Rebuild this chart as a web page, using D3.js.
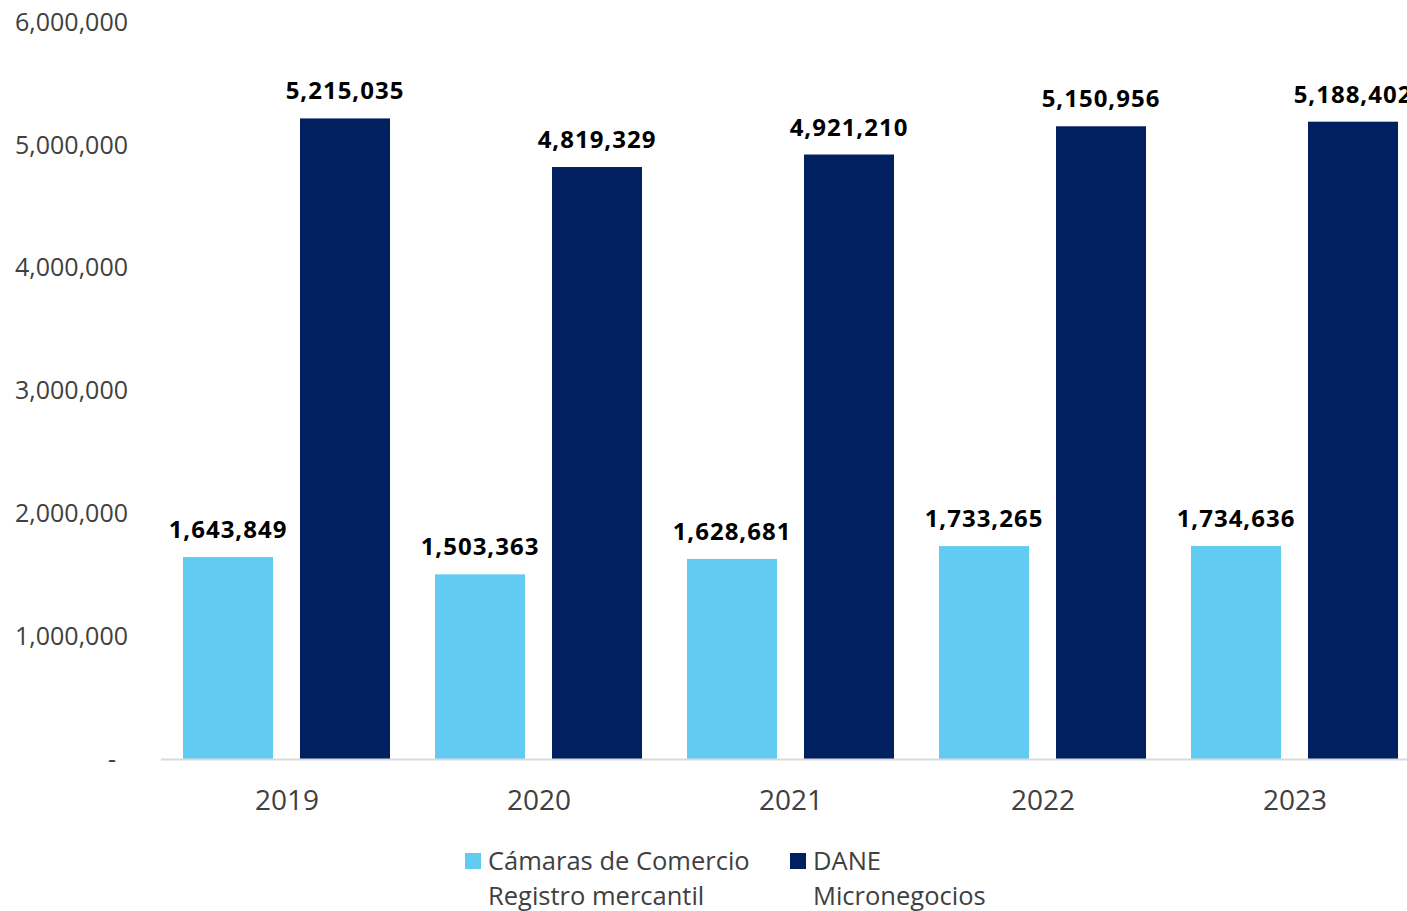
<!DOCTYPE html>
<html>
<head>
<meta charset="utf-8">
<script src="https://cdn.jsdelivr.net/npm/d3@7"></script>
<style>
  body { margin: 0; background: #fff; overflow: hidden; }
  text { font-family: "Open Sans", "Noto Sans", sans-serif; }
</style>
</head>
<body>
<div class="chart"></div>
<script>
// data
var years = ["2019", "2020", "2021", "2022", "2023"];
var seriesNames = ["camaras", "dane"];
var camaras = [1643849, 1503363, 1628681, 1733265, 1734636];
var dane = [5215035, 4819329, 4921210, 5150956, 5188402];
var yTicks = [0, 1000000, 2000000, 3000000, 4000000, 5000000, 6000000];
var legendLines = [["Cámaras de Comercio", "Registro mercantil"], ["DANE", "Micronegocios"]];
var colors = { camaras: "#62CBF2", dane: "#00205F" };

var svgWidth = 1407;
var svgHeight = 911;

var svg = d3.select(".chart")
  .append("svg")
  .attr("width", svgWidth)
  .attr("height", svgHeight);

var yScale = d3.scaleLinear().domain([0, 6000000]).range([759, 22]);

// band runs past the right edge, like the reference crop
var xScale = d3.scaleBand().domain(years).range([161, 1421]).padding(0);
var xInner = d3.scaleBand().domain(seriesNames).range([22, 229]).paddingInner(27 / 117).paddingOuter(0);

var rows = years.map(function(y, i) {
  return { year: y, camaras: camaras[i], dane: dane[i] };
});

// y axis labels (no gridlines)
var fmt = d3.format(",");
svg.append("g").selectAll("text")
  .data(yTicks).enter().append("text")
  .attr("x", function(d) { return d === 0 ? 116 : 128; })
  .attr("y", function(d) { return yScale(d); })
  .attr("dy", "0.35em")
  .attr("text-anchor", "end")
  .attr("fill", "#404040")
  .style("font-size", "25px")
  .text(function(d) { return d === 0 ? "-" : fmt(d); });

// bars
var groups = svg.append("g").selectAll("g")
  .data(rows).enter().append("g")
  .attr("transform", function(d) { return "translate(" + xScale(d.year) + ",0)"; });

groups.selectAll("rect")
  .data(function(d) { return seriesNames.map(function(k) { return { key: k, value: d[k] }; }); })
  .enter().append("rect")
  .attr("x", function(d) { return xInner(d.key); })
  .attr("width", xInner.bandwidth())
  .attr("y", function(d) { return yScale(d.value); })
  .attr("height", function(d) { return yScale(0) - yScale(d.value); })
  .attr("fill", function(d) { return colors[d.key]; });

groups.selectAll("text.val")
  .data(function(d) { return seriesNames.map(function(k) { return { key: k, value: d[k] }; }); })
  .enter().append("text")
  .attr("class", "val")
  .attr("x", function(d) { return xInner(d.key) + xInner.bandwidth() / 2; })
  .attr("y", function(d) { return yScale(d.value) - 19; })
  .attr("text-anchor", "middle")
  .attr("fill", "#000")
  .style("font-size", "24px")
  .style("letter-spacing", "1px")
  .style("font-weight", "bold")
  .text(function(d) { return fmt(d.value); });

// baseline
svg.append("line")
  .attr("x1", 161).attr("x2", 1421)
  .attr("y1", yScale(0) + 0.5).attr("y2", yScale(0) + 0.5)
  .attr("stroke", "#d9d9d9")
  .attr("stroke-width", 2);

// category labels
svg.append("g").selectAll("text")
  .data(years).enter().append("text")
  .attr("x", function(d) { return xScale(d) + xScale.bandwidth() / 2; })
  .attr("y", 810)
  .attr("text-anchor", "middle")
  .attr("fill", "#404040")
  .style("font-size", "28px")
  .text(function(d) { return d; });

// legend
var legendX = [465, 790];
var legend = svg.append("g").selectAll("g")
  .data(seriesNames).enter().append("g")
  .attr("transform", function(d, i) { return "translate(" + legendX[i] + ",0)"; });

legend.append("rect")
  .attr("x", 0).attr("y", 853)
  .attr("width", 16).attr("height", 16)
  .attr("fill", function(d) { return colors[d]; });

legend.each(function(d, i) {
  d3.select(this).selectAll("text")
    .data(legendLines[i]).enter().append("text")
    .attr("x", 23)
    .attr("y", function(t, j) { return 870 + j * 35; })
    .attr("fill", "#404040")
    .style("font-size", "25.5px")
    .text(function(t) { return t; });
});
</script>
</body>
</html>
